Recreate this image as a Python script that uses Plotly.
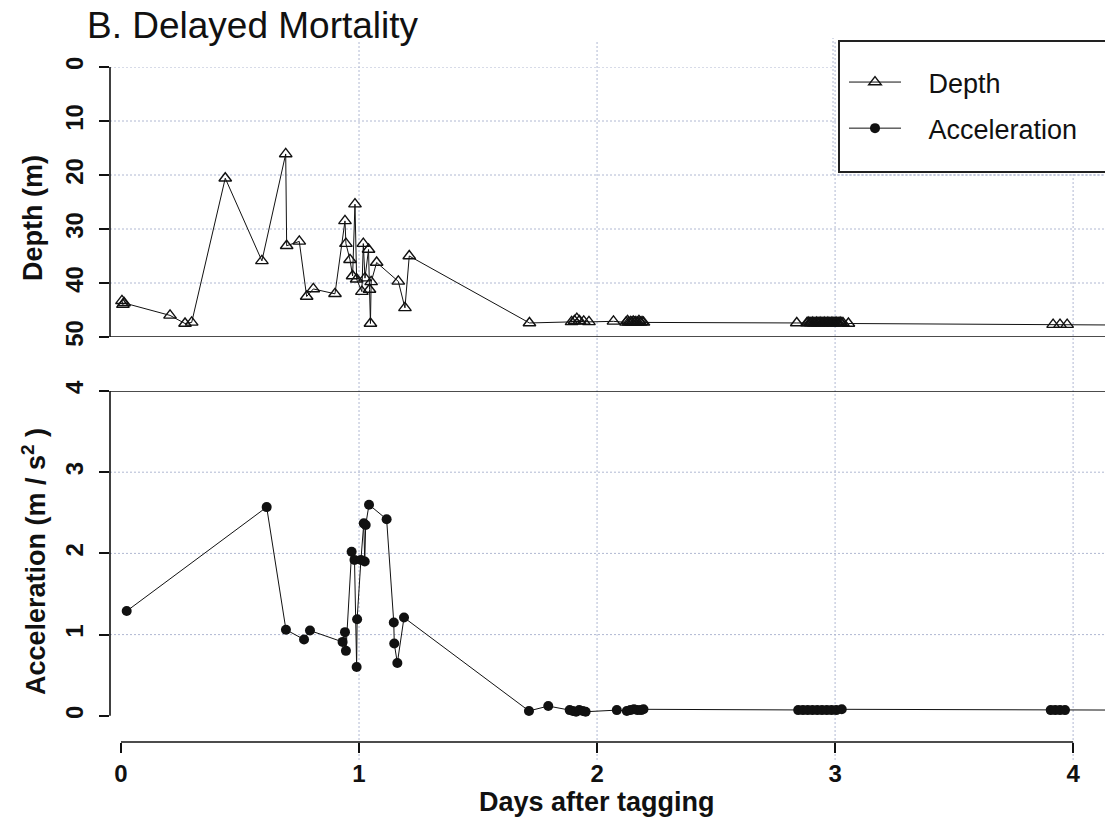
import plotly.graph_objects as go

# ---- data: tag record after release ----
depth_days = [0.004, 0.008, 0.013, 0.206, 0.269, 0.297, 0.438, 0.592, 0.692, 0.696,
              0.749, 0.780, 0.808, 0.899, 0.941, 0.945, 0.962, 0.973, 0.983, 0.990,
              1.012, 1.018, 1.025, 1.040, 1.044, 1.048, 1.051, 1.074, 1.165, 1.193,
              1.211, 1.716, 1.893, 1.905, 1.915, 1.926, 1.944, 1.966, 2.069, 2.122,
              2.128, 2.133, 2.141, 2.146, 2.152, 2.158, 2.163, 2.171, 2.176, 2.182,
              2.189, 2.195, 2.839, 2.882, 2.887, 2.893, 2.898, 2.904, 2.909, 2.915,
              2.921, 2.926, 2.931, 2.937, 2.943, 2.948, 2.954, 2.959, 2.965, 2.970,
              2.976, 2.982, 2.987, 2.993, 2.998, 3.004, 3.009, 3.015, 3.021, 3.026,
              3.033, 3.056, 3.916, 3.945, 3.975, 4.250]
depth_m = [43.3, 44.0, 43.7, 46.0, 47.5, 47.3, 20.6, 35.9, 16.1, 33.1,
           32.3, 42.5, 41.1, 42.0, 28.5, 32.7, 35.7, 38.7, 25.4, 39.3,
           41.6, 32.7, 39.1, 33.8, 41.2, 47.5, 39.8, 36.2, 39.7, 44.6,
           35.0, 47.4, 47.2, 47.0, 46.6, 47.0, 47.1, 47.2, 47.1, 47.3,
           47.0, 47.3, 47.2, 47.3, 47.1, 47.3, 47.2, 47.3, 47.0, 47.3,
           47.2, 47.3, 47.4, 47.4, 47.3, 47.4, 47.4, 47.3, 47.4, 47.4,
           47.3, 47.4, 47.4, 47.3, 47.4, 47.4, 47.3, 47.4, 47.4, 47.3,
           47.4, 47.4, 47.3, 47.4, 47.4, 47.3, 47.4, 47.4, 47.3, 47.4,
           47.4, 47.5, 47.7, 47.7, 47.7, 47.8]

acc_days = [0.024, 0.612, 0.693, 0.769, 0.794, 0.931, 0.941, 0.945, 0.969, 0.981,
            0.990, 0.992, 1.008, 1.020, 1.024, 1.028, 1.042, 1.116, 1.146, 1.148,
            1.161, 1.189, 1.714, 1.795, 1.885, 1.898, 1.912, 1.925, 1.940, 1.952,
            2.083, 2.125, 2.140, 2.155, 2.170, 2.185, 2.195, 2.845, 2.865, 2.885,
            2.905, 2.925, 2.945, 2.965, 2.985, 3.005, 3.028, 3.906, 3.925, 3.945,
            3.966, 4.250]
acc_ms2 = [1.29, 2.57, 1.06, 0.94, 1.05, 0.91, 1.03, 0.80, 2.02, 1.92,
           0.60, 1.19, 1.92, 2.37, 1.90, 2.35, 2.60, 2.42, 1.15, 0.89,
           0.65, 1.21, 0.06, 0.12, 0.07, 0.06, 0.05, 0.07, 0.06, 0.05,
           0.07, 0.06, 0.07, 0.08, 0.07, 0.07, 0.08, 0.07, 0.07, 0.07,
           0.07, 0.07, 0.07, 0.07, 0.07, 0.07, 0.08, 0.07, 0.07, 0.07,
           0.07, 0.07]

x_ticks = [0, 1, 2, 3, 4]
depth_ticks = [0, 10, 20, 30, 40, 50]
acc_ticks = [0, 1, 2, 3, 4]

# ---- page geometry (pixels) ----
W, H = 1105, 822
def px(x):
    return x / W
def py(y):
    return 1 - y / H

FONT = "Liberation Sans, Arial, sans-serif"
INK = "#111111"
GRID = "rgb(176,184,210)"
PAD = "\u00a0\u00a0\u00a0"  # gap between legend key and label

fig = go.Figure()

fig.add_trace(go.Scatter(
    x=depth_days, y=depth_m, name=PAD + "Depth", mode="lines+markers",
    xaxis="x", yaxis="y", legendgroup="depth",
    line=dict(color=INK, width=1),
    marker=dict(symbol="triangle-up-open", size=11, color=INK, line=dict(width=1.4)),
))
fig.add_trace(go.Scatter(
    x=acc_days, y=acc_ms2, name=PAD + "Acceleration", mode="lines+markers",
    xaxis="x", yaxis="y2", legendgroup="acc",
    line=dict(color=INK, width=1),
    marker=dict(symbol="circle", size=10, color=INK),
))

tickfont = dict(family=FONT, size=24, color=INK, weight="bold")

fig.update_layout(
    width=W, height=H,
    margin=dict(l=0, r=0, t=0, b=0, pad=0, autoexpand=False),
    paper_bgcolor="white",
    plot_bgcolor="rgba(0,0,0,0)",
    showlegend=True,
    xaxis=dict(
        domain=[px(110), 1.0], range=[-0.0462, 4.134],
        anchor="y2", side="bottom", automargin=False,
        tickvals=x_ticks, ticks="outside", ticklen=10, tickwidth=1.5, tickcolor=INK,
        tickfont=tickfont, ticklabelstandoff=0,
        showline=False, showgrid=False, zeroline=False,
    ),
    yaxis=dict(
        domain=[py(337), py(67)], range=[50, 0],
        anchor="x", side="left", automargin=False,
        tickvals=depth_ticks, ticks="outside", ticklen=10, tickwidth=1.5, tickcolor=INK,
        tickfont=tickfont, tickangle=-90, ticklabelstandoff=6,
        showline=False, showgrid=False, zeroline=False,
    ),
    yaxis2=dict(
        domain=[py(742), py(391)], range=[-0.3227, 4],
        anchor="x", side="left", automargin=False,
        tickvals=acc_ticks, ticks="outside", ticklen=10, tickwidth=1.5, tickcolor=INK,
        tickfont=tickfont, tickangle=-90, ticklabelstandoff=6,
        showline=False, showgrid=False, zeroline=False,
    ),
    legend=dict(
        x=px(844), y=py(58), xanchor="left", yanchor="top",
        bgcolor="rgba(0,0,0,0)", borderwidth=0,
        font=dict(family=FONT, size=27, color=INK),
        itemwidth=52, tracegroupgap=8, traceorder="grouped",
    ),
)

shapes = []
dot = dict(color=GRID, width=1, dash="2px,2px")

# horizontal reference lines
for v in depth_ticks[:-1]:
    shapes.append(dict(type="line", xref="x domain", yref="y", x0=0, x1=1, y0=v, y1=v,
                       line=dot, layer="below"))
for v in acc_ticks[1:-1]:
    shapes.append(dict(type="line", xref="x domain", yref="y2", x0=0, x1=1, y0=v, y1=v,
                       line=dot, layer="below"))
# vertical reference lines through both panels
for v in x_ticks[1:]:
    shapes.append(dict(type="line", xref="x", yref="paper", x0=v, x1=v,
                       y0=py(760), y1=py(40), line=dot, layer="below"))

solid = dict(color=INK, width=1.6)
# panel frame lines
shapes.append(dict(type="line", xref="x domain", yref="y", x0=0, x1=1, y0=50, y1=50, line=solid))
shapes.append(dict(type="line", xref="x domain", yref="y2", x0=0, x1=1, y0=4, y1=4, line=solid))
# left axis lines
shapes.append(dict(type="line", xref="x domain", yref="y", x0=0, x1=0, y0=0, y1=50, line=solid))
shapes.append(dict(type="line", xref="x domain", yref="y2", x0=0, x1=0, y0=0, y1=4, line=solid))
# bottom axis line
shapes.append(dict(type="line", xref="x", yref="y2 domain", x0=0, x1=4, y0=0, y1=0, line=solid))

# legend frame
shapes.append(dict(type="line", xref="paper", yref="paper", x0=px(833), x1=px(833),
                   y0=py(175), y1=py(38), line=dot, layer="below"))
shapes.append(dict(type="line", xref="paper", yref="paper", x0=px(833), x1=1.0,
                   y0=py(175), y1=py(175), line=dot, layer="below"))
shapes.append(dict(type="rect", xref="paper", yref="paper", x0=px(839), x1=px(1120),
                   y0=py(172), y1=py(41), fillcolor="white",
                   line=dict(color="#222222", width=2), layer="below"))

fig.update_layout(shapes=shapes)

annotations = [
    dict(text="B. Delayed Mortality", x=px(85), y=py(25), xref="paper", yref="paper",
         xanchor="left", yanchor="middle", showarrow=False,
         font=dict(family=FONT, size=37, color=INK)),
    dict(text="Depth (m)", x=px(33), y=py(218), xref="paper", yref="paper",
         xanchor="center", yanchor="middle", showarrow=False, textangle=-90,
         font=dict(family=FONT, size=27, color=INK, weight="bold")),
    dict(text="Acceleration (m / s<sup>2</sup> )", x=px(34), y=py(562), xref="paper", yref="paper",
         xanchor="center", yanchor="middle", showarrow=False, textangle=-90,
         font=dict(family=FONT, size=27, color=INK, weight="bold")),
    dict(text="Days after tagging", x=px(597), y=py(802), xref="paper", yref="paper",
         xanchor="center", yanchor="middle", showarrow=False,
         font=dict(family=FONT, size=27, color=INK, weight="bold")),
]
fig.update_layout(annotations=annotations)

fig.write_html("out.html")
